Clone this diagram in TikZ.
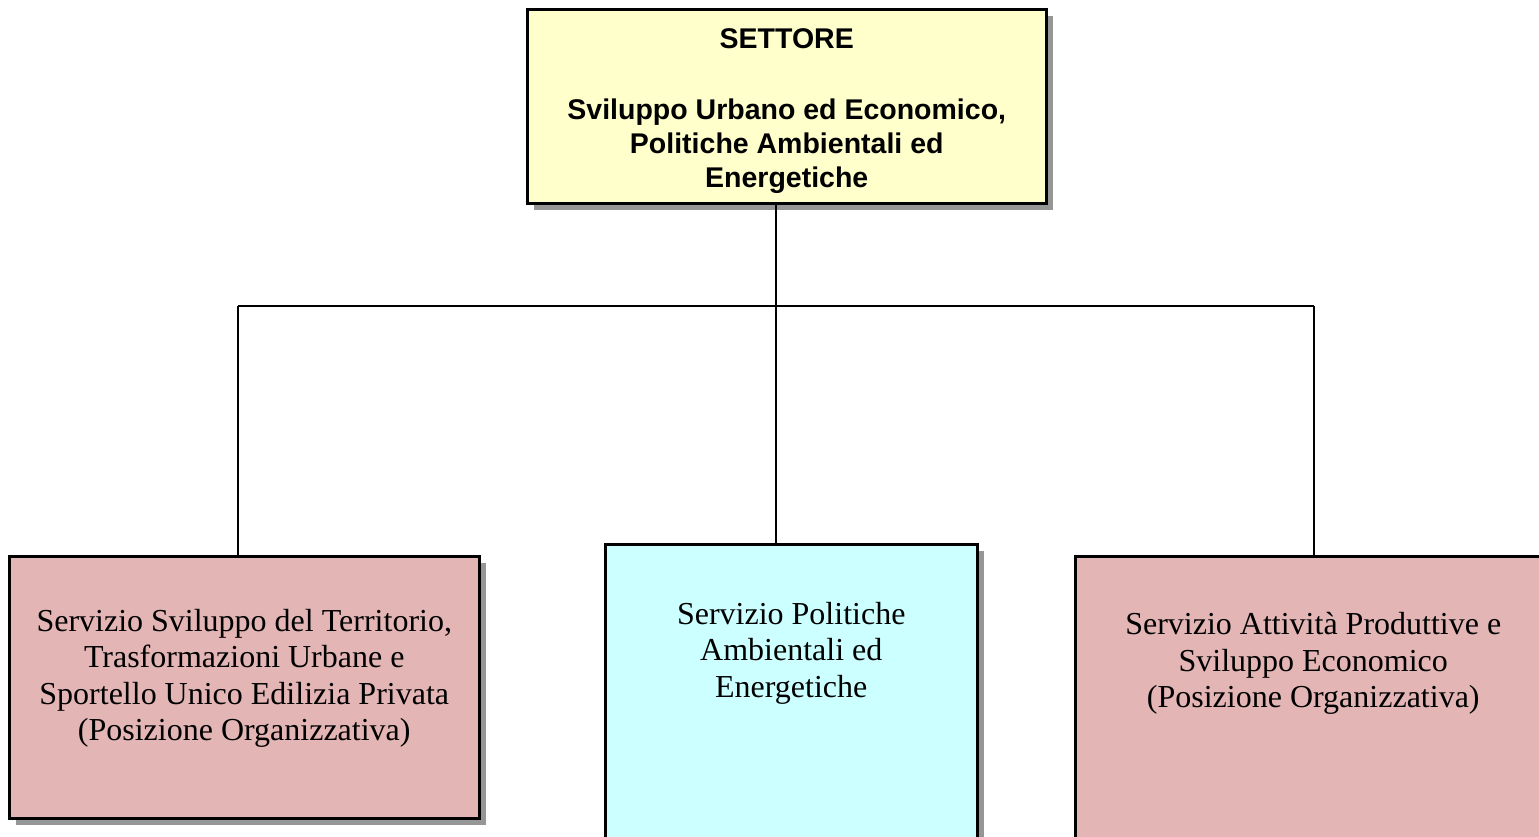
\documentclass[tikz,border=0pt]{standalone}
\usepackage{fontspec}
\setmainfont{Liberation Serif}
\newfontfamily\arialf{Liberation Sans}
\definecolor{topfill}{RGB}{255,255,204}
\definecolor{pinkfill}{RGB}{227,181,181}
\definecolor{cyanfill}{RGB}{204,255,255}
\definecolor{shadowc}{RGB}{150,150,150}
\newcommand\bxtext[4]{\parbox[c][#2][t]{#1}{\centering\vspace*{#3}#4\par}}
\tikzset{
  orgbox/.style={draw=black, line width=2.5pt, inner sep=0pt, anchor=north west},
  conn/.style={draw=black, line width=1.6pt},
  bottomtext/.style={},
}
\begin{document}
\begin{tikzpicture}[x=1pt,y=-1pt]
\useasboundingbox (0,0) rectangle (1539,836);
\clip (0,0) rectangle (1539,836);
% shadows
\fill[shadowc] (534,16) rectangle (1053,210);
\fill[shadowc] (16,563) rectangle (486,825);
\fill[shadowc] (612,551) rectangle (984,850);
\fill[shadowc] (1082,563) rectangle (1570,850);
% top box
\node[orgbox, fill=topfill] (top) at (526,8)
  {\bxtext{519pt}{194pt}{19pt}{\arialf\bfseries\fontsize{28.5}{34}\selectfont SETTORE\\[37.5pt]Sviluppo Urbano ed Economico,\\Politiche Ambientali ed\\Energetiche}};
% bottom boxes
\node[orgbox, fill=pinkfill] (left) at (8,555)
  {\bxtext{470pt}{262pt}{53pt}{\fontsize{32}{36.5}\selectfont Servizio Sviluppo del Territorio,\\Trasformazioni Urbane e\\Sportello Unico Edilizia Privata\\(Posizione Organizzativa)}};
\node[orgbox, fill=cyanfill] (mid) at (604,543)
  {\bxtext{372pt}{300pt}{58pt}{\fontsize{32}{36.5}\selectfont Servizio Politiche\\Ambientali ed\\Energetiche}};
\node[orgbox, fill=pinkfill] (right) at (1074,555)
  {\bxtext{476pt}{290pt}{56pt}{\fontsize{32}{36.5}\selectfont Servizio Attività Produttive e\\Sviluppo Economico\\(Posizione Organizzativa)}};
% connectors
\coordinate (jc) at (776,306);
\coordinate (jl) at (238,306);
\coordinate (jr) at (1314,306);
\draw[conn] (top.south -| jc) -- (jc);
\draw[conn] (jl) -- (jr);
\draw[conn] (jl) -- (left.north -| jl);
\draw[conn] (jc) -- (mid.north -| jc);
\draw[conn] (jr) -- (right.north -| jr);
\end{tikzpicture}
\end{document}
